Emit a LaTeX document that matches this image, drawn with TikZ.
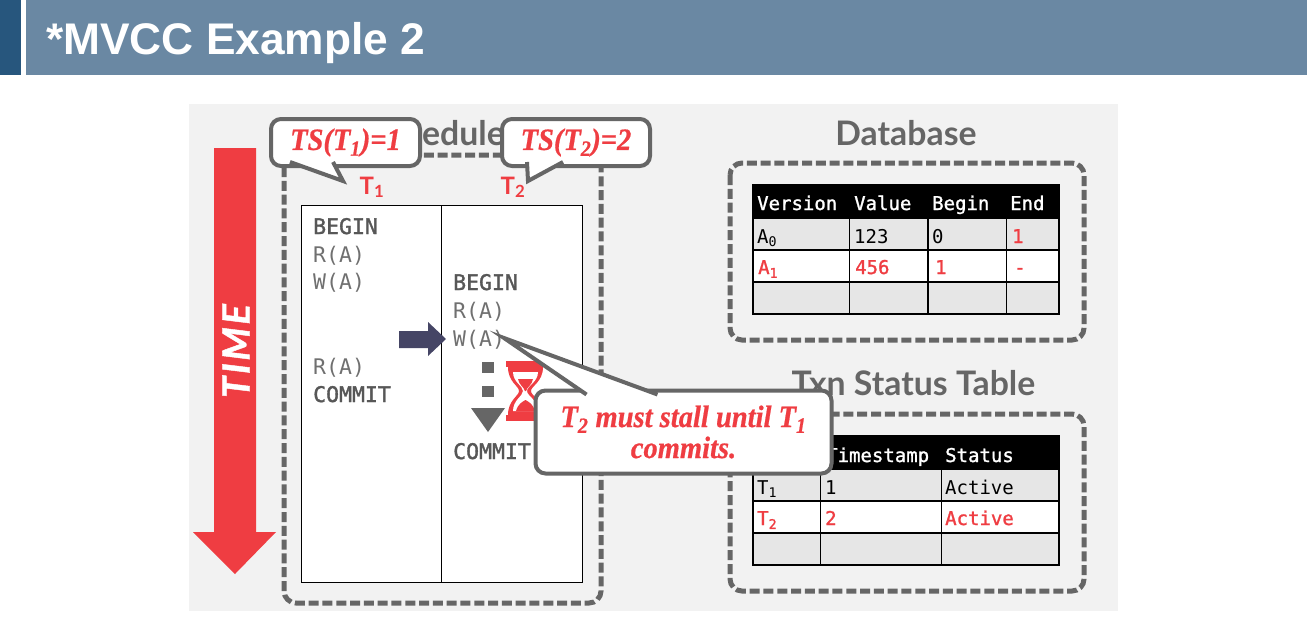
\documentclass[tikz,border=0pt]{standalone}
\usepackage{fontspec}
\setmainfont{Liberation Sans}
\newfontfamily\codefont{DejaVu Sans Mono}
\newfontfamily\codemedium[FakeBold=1.6]{DejaVu Sans Mono}
\newfontfamily\cellmedium[FakeBold=1.3]{DejaVu Sans Mono}
\newfontfamily\headfont{Lato}
\newfontfamily\timeface[LetterSpace=7,FakeBold=1.2]{Lato}
\newfontfamily\noteface[FakeStretch=0.92,FakeBold=0.6]{Liberation Serif}
\definecolor{barlight}{HTML}{6A88A3}
\definecolor{bardark}{HTML}{27567D}
\definecolor{panelgray}{HTML}{F2F2F2}
\definecolor{edgegray}{HTML}{666666}
\definecolor{alertred}{HTML}{EF3D42}
\definecolor{navyarrow}{HTML}{454565}
\definecolor{cellgray}{HTML}{E6E6E6}
\definecolor{cmdgray}{HTML}{707070}
\usetikzlibrary{calc}
\tikzset{
    headtext/.style={anchor=base, text=edgegray, font=\headfont\bfseries\fontsize{33.8}{33.8}\selectfont, inner sep=0pt},
    dashbox/.style={draw=edgegray, line width=5pt, rounded corners=12pt, dash pattern=on 10pt off 3.8pt},
    cmdtext/.style={anchor=base west, inner sep=0pt, text=cmdgray, font=\codefont\fontsize{21.5}{21.5}\selectfont},
    cmdbold/.style={cmdtext, text=edgegray!85!black, font=\codemedium\fontsize{21.5}{21.5}\selectfont},
    txnlabel/.style={anchor=base, inner sep=0pt, text=alertred, font=\headfont\bfseries\fontsize{24}{24}\selectfont},
    notebox/.style={draw=edgegray, fill=white, line width=4pt, rounded corners=10pt, inner sep=0pt, outer sep=0pt, align=center, text=alertred, font=\noteface\bfseries\itshape\fontsize{31}{31}\selectfont},
    notetail/.style={draw=edgegray, fill=white, line width=4pt, line join=miter},
    cellhead/.style={anchor=base west, inner sep=0pt, text=white, font=\cellmedium\fontsize{19}{19}\selectfont},
    cellblack/.style={anchor=base west, inner sep=0pt, text=black, font=\codefont\fontsize{19}{19}\selectfont},
    cellred/.style={anchor=base west, inner sep=0pt, text=alertred, font=\cellmedium\fontsize{19}{19}\selectfont},
    tableline/.style={draw=black, line width=1.6pt}
}
\begin{document}
\begin{tikzpicture}[x=1pt, y=-1pt]
    \useasboundingbox (0,0) rectangle (1307,638);
    \fill[white] (0,0) rectangle (1307,638);
    \fill[bardark] (0,0) rectangle (21,75);
    \fill[barlight] (26,0) rectangle (1307,75);
    \node[anchor=base west, inner sep=0pt, text=white, font=\bfseries\fontsize{44.3}{44.3}\selectfont] (slidetitle) at (46,54) {*MVCC Example 2};
    \fill[panelgray] (189,104) rectangle (1118,611);

    \fill[alertred] (214,148) -- (256,148) -- (256,532) -- (276,532) -- (235,574) -- (193,532) -- (214,532) -- cycle;
    \node[rotate=90, inner sep=0pt, text=white, font=\timeface\bfseries\itshape\fontsize{38}{38}\selectfont] (timelabel) at (236,351) {TIME};

    \node[headtext, anchor=base east] (schedulehead) at (505,145) {Schedule};
    \draw[dashbox] (284,155) rectangle (601,603);
    \fill[white] (301,205) rectangle (582,582);
    \draw[black, line width=1pt] (301,205) rectangle (582,582);
    \draw[black, line width=1pt] (441,205) -- (441,582);
    \node[txnlabel] (txna) at (372,194) {T\textsubscript{1}};
    \node[txnlabel] (txnb) at (513,194) {T\textsubscript{2}};

    \node[cmdbold] (beginleft) at (313,234) {BEGIN};
    \node[cmdtext] (readleft) at (313,262) {R(A)};
    \node[cmdtext] (writeleft) at (313,289) {W(A)};
    \node[cmdtext] (readlate) at (313,374) {R(A)};
    \node[cmdbold] (commitleft) at (313,402) {COMMIT};
    \node[cmdbold] (beginright) at (453,290) {BEGIN};
    \node[cmdtext] (readright) at (453,318) {R(A)};
    \node[cmdtext] (writeright) at (453,346) {W(A)};
    \node[cmdbold] (commitright) at (453,459) {COMMIT};

    \fill[navyarrow] (399,331) -- (428,331) -- (428,322) -- (446,339) -- (428,356) -- (428,348) -- (399,348) -- cycle;
    \fill[edgegray] (482,362) rectangle (494,373);
    \fill[edgegray] (482,386) rectangle (494,397);
    \fill[edgegray] (471,408) -- (505,408) -- (488,432) -- cycle;

    \fill[alertred] (506,361) rectangle (545,367);
    \fill[alertred] (506,415) rectangle (545,421);
    \fill[alertred] (508,367) .. controls (508,382) and (519,386) .. (519,391) .. controls (519,396) and (508,400) .. (508,415) -- (543,415) .. controls (543,400) and (531,396) .. (531,391) .. controls (531,386) and (543,382) .. (543,367) -- cycle;
    \fill[white] (513,372) .. controls (513,382) and (523,386) .. (523,391) .. controls (523,396) and (513,400) .. (513,411) -- (538,411) .. controls (538,400) and (527,396) .. (527,391) .. controls (527,386) and (538,382) .. (538,372) -- cycle;
    \fill[alertred] (518,379) -- (533,379) .. controls (532,385) and (527,387) .. (526,391) -- (525,391) .. controls (524,387) and (519,385) .. (518,379) -- cycle;
    \fill[alertred] (516,411) .. controls (518,404) and (522,402) .. (525.5,400) .. controls (529,402) and (533,404) .. (535,411) -- cycle;

    \node[headtext] (databasehead) at (906,145) {Database};
    \draw[dashbox] (730,163) rectangle (1084,340);
    \fill[black] (753,185) rectangle (1059,218);
    \fill[cellgray] (753,218) rectangle (1059,250);
    \fill[white] (753,250) rectangle (1059,282);
    \fill[cellgray] (753,282) rectangle (1059,314);
    \draw[tableline] (753,185) rectangle (1059,314);
    \draw[tableline] (753,218) -- (1059,218);
    \draw[tableline] (753,250) -- (1059,250);
    \draw[tableline] (753,282) -- (1059,282);
    \draw[tableline] (849.5,218) -- (849.5,314);
    \draw[tableline] (928,218) -- (928,314);
    \draw[tableline] (1006.5,218) -- (1006.5,314);
    \node[cellhead] (versionhead) at (757,210) {Version};
    \node[cellhead] (valuehead) at (854,210) {Value};
    \node[cellhead] (beginhead) at (932,210) {Begin};
    \node[cellhead] (endhead) at (1010,210) {End};
    \node[cellblack] (versiona) at (757,243) {A\textsubscript{0}};
    \node[cellblack] (valuea) at (854,243) {123};
    \node[cellblack] (begina) at (932,243) {0};
    \node[cellred] (enda) at (1012,243) {1};
    \node[cellred] (versionb) at (758,274) {A\textsubscript{1}};
    \node[cellred] (valueb) at (855,274) {456};
    \node[cellred] (beginb) at (935,274) {1};
    \node[cellred] (endb) at (1014,274) {-};

    \node[headtext] (statushead) at (913.5,395) {Txn Status Table};
    \draw[dashbox] (730,414) rectangle (1084,591);
    \fill[black] (753,436) rectangle (1059,469);
    \fill[cellgray] (753,469) rectangle (1059,501);
    \fill[white] (753,501) rectangle (1059,533);
    \fill[cellgray] (753,533) rectangle (1059,565);
    \draw[tableline] (753,436) rectangle (1059,565);
    \draw[tableline] (753,469) -- (1059,469);
    \draw[tableline] (753,501) -- (1059,501);
    \draw[tableline] (753,533) -- (1059,533);
    \draw[tableline] (820.5,469) -- (820.5,565);
    \draw[tableline] (941.5,469) -- (941.5,565);
    \node[cellhead] (stamphead) at (826,462) {Timestamp};
    \node[cellhead] (statuscol) at (945,462) {Status};
    \node[cellblack] (rowta) at (757,494) {T\textsubscript{1}};
    \node[cellblack] (stampa) at (825,494) {1};
    \node[cellblack] (statusa) at (945,494) {Active};
    \node[cellred] (rowtb) at (757,525) {T\textsubscript{2}};
    \node[cellred] (stampb) at (825,525) {2};
    \node[cellred] (statusb) at (945,525) {Active};

    \node[notebox, minimum width=149pt, minimum height=47pt] (tsnotea) at (345.5,142.5) {TS(T\textsubscript{1})=1};
    \coordinate (tsnoteatip) at (343,181);
    \path[notetail] ($(tsnotea.south west)+(19,-4)$) -- (tsnoteatip) -- ($(tsnotea.south west)+(62,-4)$);
    \node[notebox, minimum width=148pt, minimum height=47pt] (tsnoteb) at (576,142.5) {TS(T\textsubscript{2})=2};
    \coordinate (tsnotebtip) at (528,181);
    \path[notetail] ($(tsnoteb.south west)+(25,-4)$) -- (tsnotebtip) -- ($(tsnoteb.south west)+(61,-4)$);
    \node[notebox, minimum width=296pt, minimum height=83pt] (stallnote) at (683.5,432) {T\textsubscript{2} must stall until T\textsubscript{1}\\commits.};
    \coordinate (stallnotetip) at (504,338);
    \path[notetail] ($(stallnote.north west)+(51,4)$) -- (stallnotetip) -- ($(stallnote.north west)+(122,4)$);
\end{tikzpicture}
\end{document}
